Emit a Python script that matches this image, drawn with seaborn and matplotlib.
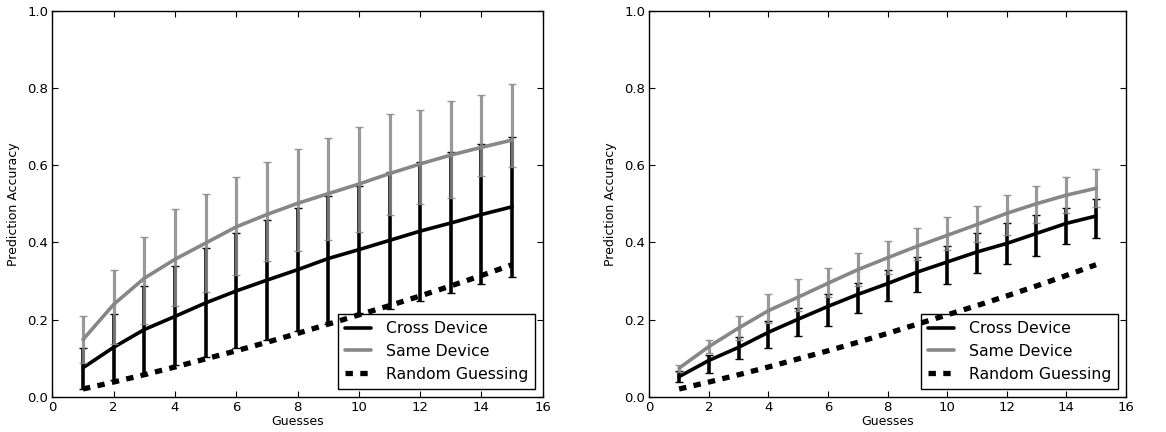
import numpy as np
import pandas as pd
import matplotlib
matplotlib.use("Agg")
import matplotlib.pyplot as plt
import seaborn as sns

guesses = list(range(1, 16))

# Left panel
left_cross_mean = [0.075, 0.128, 0.174, 0.208, 0.243, 0.274, 0.302, 0.329, 0.358, 0.381, 0.405, 0.429, 0.450, 0.472, 0.492]
left_cross_hi = [0.127, 0.215, 0.287, 0.338, 0.384, 0.423, 0.459, 0.489, 0.521, 0.545, 0.582, 0.609, 0.633, 0.655, 0.674]
left_cross_lo = [0.020, 0.042, 0.056, 0.081, 0.102, 0.126, 0.148, 0.170, 0.189, 0.216, 0.228, 0.249, 0.268, 0.291, 0.310]
left_same_mean = [0.148, 0.239, 0.307, 0.356, 0.398, 0.440, 0.472, 0.501, 0.526, 0.551, 0.578, 0.603, 0.626, 0.646, 0.665]
left_same_hi = [0.209, 0.327, 0.414, 0.485, 0.525, 0.568, 0.607, 0.641, 0.671, 0.700, 0.732, 0.743, 0.767, 0.782, 0.810]
left_same_lo = [0.088, 0.137, 0.189, 0.234, 0.271, 0.316, 0.351, 0.377, 0.405, 0.427, 0.472, 0.498, 0.516, 0.571, 0.596]

# Right panel
right_cross_mean = [0.052, 0.094, 0.128, 0.167, 0.201, 0.234, 0.265, 0.293, 0.323, 0.349, 0.375, 0.397, 0.423, 0.449, 0.468]
right_cross_hi = [0.066, 0.108, 0.154, 0.197, 0.229, 0.267, 0.294, 0.327, 0.362, 0.390, 0.425, 0.449, 0.472, 0.488, 0.511]
right_cross_lo = [0.037, 0.062, 0.098, 0.126, 0.158, 0.182, 0.216, 0.247, 0.271, 0.291, 0.320, 0.345, 0.364, 0.395, 0.412]
right_same_mean = [0.074, 0.130, 0.178, 0.223, 0.258, 0.294, 0.329, 0.360, 0.390, 0.418, 0.446, 0.475, 0.500, 0.522, 0.540]
right_same_hi = [0.083, 0.148, 0.209, 0.265, 0.304, 0.333, 0.372, 0.403, 0.436, 0.466, 0.494, 0.522, 0.546, 0.568, 0.589]
right_same_lo = [0.063, 0.112, 0.147, 0.190, 0.222, 0.258, 0.288, 0.319, 0.355, 0.379, 0.401, 0.420, 0.449, 0.475, 0.492]

random_guess = [0.020, 0.038, 0.057, 0.077, 0.098, 0.119, 0.141, 0.164, 0.188, 0.212, 0.236, 0.261, 0.287, 0.314, 0.342]

series_names = ["Cross Device", "Same Device", "Random Guessing"]
x_ticks = [0, 2, 4, 6, 8, 10, 12, 14, 16]
y_ticks = [0.0, 0.2, 0.4, 0.6, 0.8, 1.0]

sns.set_theme(style="ticks")
plt.rcParams.update({
    "font.family": ["DejaVu Sans"],
    "xtick.direction": "in",
    "ytick.direction": "in",
    "xtick.top": True,
    "ytick.right": True,
    "xtick.major.size": 4,
    "ytick.major.size": 4,
    "xtick.major.width": 0.8,
    "ytick.major.width": 0.8,
    "xtick.color": "black",
    "ytick.color": "black",
    "axes.edgecolor": "black",
    "axes.linewidth": 1.0,
    "text.color": "black",
    "axes.labelcolor": "black",
})

GREY = "#878787"

fig = plt.figure(figsize=(11.66, 4.32), dpi=100)
ax1 = fig.add_axes([0.0449, 0.0817, 0.4206, 0.8935])
ax2 = fig.add_axes([0.5569, 0.0817, 0.4086, 0.8935])


def panel(ax, cm, clo, chi, sm, slo, shi):
    cm, clo, chi = np.array(cm), np.array(clo), np.array(chi)
    sm, slo, shi = np.array(sm), np.array(slo), np.array(shi)
    df = pd.DataFrame({
        "Guesses": guesses * 3,
        "Accuracy": list(cm) + list(sm) + list(random_guess),
        "Series": [series_names[0]] * 15 + [series_names[1]] * 15 + [series_names[2]] * 15,
    })
    ax.errorbar(guesses, cm, yerr=[cm - clo, chi - cm], fmt="none", ecolor="black",
                elinewidth=2.6, capsize=3.2, capthick=1.0, zorder=2)
    sns.lineplot(data=df[df.Series == series_names[0]], x="Guesses", y="Accuracy",
                 color="black", lw=2.6, ax=ax, label=series_names[0], zorder=3)
    ax.errorbar(guesses, sm, yerr=[sm - slo, shi - sm], fmt="none", ecolor=GREY,
                elinewidth=2.3, capsize=3.2, capthick=1.0, alpha=0.85, zorder=4)
    sns.lineplot(data=df[df.Series == series_names[1]], x="Guesses", y="Accuracy",
                 color=GREY, lw=2.6, ax=ax, label=series_names[1], zorder=5)
    sns.lineplot(data=df[df.Series == series_names[2]], x="Guesses", y="Accuracy",
                 color="black", lw=3.8, ax=ax, label=series_names[2], zorder=6)
    rl = ax.lines[-1]
    rl.set_dashes([1.4, 1.4])
    rl.set_dash_capstyle("butt")

    ax.set_xlim(0, 16)
    ax.set_ylim(0, 1.0)
    ax.set_xticks(x_ticks)
    ax.set_yticks(y_ticks)
    ax.set_yticklabels([f"{v:.1f}" for v in y_ticks])
    ax.tick_params(labelsize=9.5, pad=3)
    ax.set_xlabel("Guesses", fontsize=9, labelpad=1)
    ax.set_ylabel("Prediction Accuracy", fontsize=9, labelpad=5)
    leg = ax.legend(loc="lower right", fontsize=11.3, frameon=True, fancybox=False,
                    edgecolor="black", framealpha=1, borderaxespad=0.5,
                    handlelength=1.7, handletextpad=0.9, borderpad=0.45, labelspacing=0.5)
    leg.get_frame().set_linewidth(1.0)
    for h in leg.get_lines():
        h.set_dash_capstyle("butt")
    for s in ax.spines.values():
        s.set_visible(True)


panel(ax1, left_cross_mean, left_cross_lo, left_cross_hi, left_same_mean, left_same_lo, left_same_hi)
panel(ax2, right_cross_mean, right_cross_lo, right_cross_hi, right_same_mean, right_same_lo, right_same_hi)

fig.savefig("out.png", dpi=100)
